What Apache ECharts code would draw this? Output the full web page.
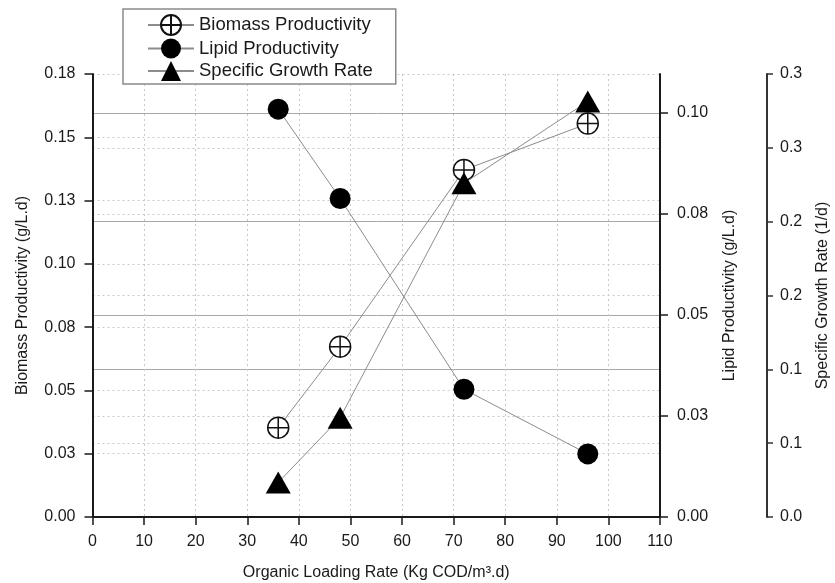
<!DOCTYPE html>
<html>
<head>
<meta charset="utf-8">
<script src="https://cdn.jsdelivr.net/npm/echarts@6/dist/echarts.min.js"></script>
<style>html,body{margin:0;padding:0;background:#fff}#c{width:835px;height:583px}</style>
</head>
<body>
<div id="c"></div>
<script>
// ---- data ----
const olr = [36, 48, 72, 96];
const biomassProductivity = [0.0353, 0.0673, 0.1371, 0.1554];
const lipidProductivity = [0.1009, 0.0788, 0.0316, 0.0156];
const specificGrowthRate = [0.0234, 0.0672, 0.226, 0.2814];
const seriesNames = ['Biomass Productivity', 'Lipid Productivity', 'Specific Growth Rate'];
const xTicks = [0, 10, 20, 30, 40, 50, 60, 70, 80, 90, 100, 110];
const biomassTicks = [0, 0.025, 0.05, 0.075, 0.1, 0.125, 0.15, 0.175];
const lipidTicks = [0, 0.025, 0.05, 0.075, 0.1];
const sgrTicks = [0, 0.05, 0.1, 0.15, 0.2, 0.25, 0.3];

const FONT = 'Liberation Sans, Arial, sans-serif';
const AX = '#1a1a1a';
const pair = (xs, ys) => xs.map((x, i) => [x, ys[i]]);
const fmt2 = v => (Math.round(v * 100 + 1e-6) / 100).toFixed(2);
const fmt1 = v => (Math.round(v * 10 + 1e-6) / 10).toFixed(1);
const near = (v, arr) => arr.some(t => Math.abs(t - v) < 1e-6);

const dotted = { show: true, lineStyle: { color: '#c9c9c9', type: [2, 3], width: 1 } };
const solid = { show: true, showMinLine: false, showMaxLine: false, lineStyle: { color: '#a8a8a8', type: 'solid', width: 1 } };
const labelBase = { fontFamily: FONT, fontSize: 16, color: '#1a1a1a' };
const nameBase = { fontFamily: FONT, fontSize: 16, color: '#1a1a1a' };

const circlePlus = 'path://M0,10A10,10,0,1,1,20,10A10,10,0,1,1,0,10ZM10,0L10,20M0,10L20,10';

const chart = echarts.init(document.getElementById('c'), null, { renderer: 'canvas' });
chart.setOption({
  animation: false,
  backgroundColor: '#fff',
  grid: { left: 92.5, right: 175, top: 74, bottom: 66, containLabel: false, outerBoundsMode: 'none' },
  legend: {
    show: true,
    orient: 'vertical',
    left: 123, top: 9,
    padding: [5, 23, 3, 24],
    itemWidth: 46, itemHeight: 25, itemGap: 2.5,
    backgroundColor: '#fff',
    borderColor: '#8a8a8a', borderWidth: 1.5,
    selectedMode: false,
    textStyle: { fontFamily: FONT, fontSize: 18.5, color: '#1a1a1a' },
    data: seriesNames
  },
  xAxis: {
    type: 'value', min: 0, max: 110, interval: 10,
    name: 'Organic Loading Rate (Kg COD/m³.d)',
    nameLocation: 'middle', nameGap: 48, nameTextStyle: nameBase,
    axisLine: { show: true, onZero: false, lineStyle: { color: AX, width: 2 } },
    axisTick: { show: true, inside: false, length: 8, lineStyle: { color: AX, width: 1.5 } },
    axisLabel: Object.assign({ margin: 17, customValues: xTicks }, labelBase),
    splitLine: dotted
  },
  yAxis: [
    {
      type: 'value', position: 'left', min: 0, max: 0.175, interval: 0.025,
      name: 'Biomass Productivity (g/L.d)', nameLocation: 'middle', nameGap: 62, nameTextStyle: nameBase,
      axisLine: { show: true, onZero: false, lineStyle: { color: AX, width: 2 } },
      axisTick: { show: true, inside: false, length: 8, lineStyle: { color: AX, width: 1.5 } },
      axisLabel: Object.assign({ margin: 17, formatter: v => near(v, biomassTicks) ? fmt2(v) : '' }, labelBase),
      splitLine: dotted
    },
    {
      type: 'value', position: 'right', offset: 0, min: 0, max: 0.1096, interval: 0.025,
      name: 'Lipid Productivity (g/L.d)', nameLocation: 'middle', nameGap: 62, nameTextStyle: nameBase,
      axisLine: { show: true, onZero: false, lineStyle: { color: AX, width: 2 } },
      axisTick: { show: true, inside: false, length: 8, customValues: lipidTicks, lineStyle: { color: AX, width: 1.5 } },
      axisLabel: Object.assign({ margin: 17, customValues: lipidTicks, formatter: v => near(v, lipidTicks) ? fmt2(v) : '' }, labelBase),
      splitLine: Object.assign({}, dotted, { showMinLine: false, showMaxLine: false })
    },
    {
      type: 'value', position: 'right', offset: 107, min: 0, max: 0.3, interval: 0.05,
      name: 'Specific Growth Rate (1/d)', nameLocation: 'middle', nameGap: 48, nameTextStyle: nameBase,
      axisLine: { show: true, onZero: false, lineStyle: { color: '#333', width: 2 } },
      axisTick: { show: true, inside: false, length: 6, lineStyle: { color: '#333', width: 1.5 } },
      axisLabel: Object.assign({ margin: 13, formatter: v => near(v, sgrTicks) ? fmt1(v) : '' }, labelBase),
      splitLine: Object.assign({}, dotted, { showMinLine: false, showMaxLine: false })
    },
    {
      type: 'value', position: 'right', offset: 0, min: 0, max: 0.1096, interval: 0.05,
      axisLine: { show: false }, axisTick: { show: false }, axisLabel: { show: false },
      splitLine: solid
    },
    {
      type: 'value', position: 'right', offset: 0, min: 0, max: 0.3, interval: 0.1,
      axisLine: { show: false }, axisTick: { show: false }, axisLabel: { show: false },
      splitLine: solid
    }
  ],
  series: [
    {
      name: seriesNames[0], type: 'line', yAxisIndex: 0,
      data: pair(olr, biomassProductivity),
      symbol: circlePlus, symbolSize: 21,
      itemStyle: { color: '#fff', borderColor: '#111', borderWidth: 1.5 },
      lineStyle: { color: '#8c8c8c', width: 1 },
      z: 3
    },
    {
      name: seriesNames[1], type: 'line', yAxisIndex: 1,
      data: pair(olr, lipidProductivity),
      symbol: 'circle', symbolSize: 21,
      itemStyle: { color: '#000', borderColor: '#000', borderWidth: 0 },
      lineStyle: { color: '#8c8c8c', width: 1 },
      z: 4
    },
    {
      name: seriesNames[2], type: 'line', yAxisIndex: 2,
      data: pair(olr, specificGrowthRate),
      symbol: 'triangle', symbolSize: [25, 22],
      itemStyle: { color: '#000', borderColor: '#000', borderWidth: 0 },
      lineStyle: { color: '#8c8c8c', width: 1 },
      z: 5
    }
  ]
});
</script>
</body>
</html>
